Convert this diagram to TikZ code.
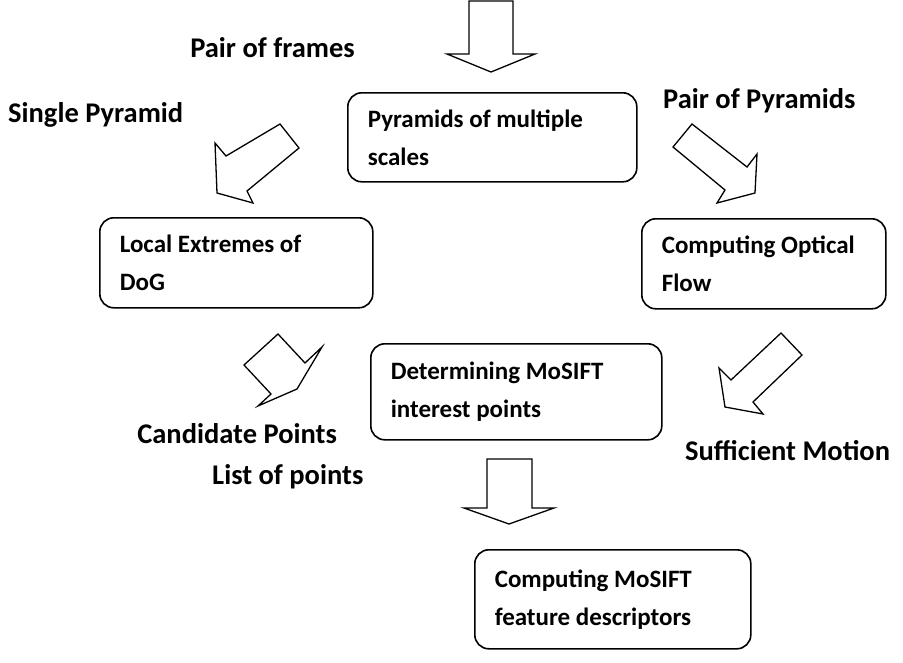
\documentclass[tikz,border=0pt]{standalone}
\usepackage{fontspec}
\setmainfont{Carlito}
\usetikzlibrary{positioning}
\newcommand{\boxfont}{\fontsize{25}{38}\selectfont\bfseries}
\newcommand{\labfont}{\fontsize{28.5}{34}\selectfont\bfseries}
\tikzset{
	stage/.style={draw,line width=1.6pt,rounded corners=14pt,align=flush left,
		font=\boxfont,inner xsep=20pt,inner ysep=4pt,anchor=north west},
	tag/.style={font=\labfont,inner sep=0pt},
	blk/.style={draw,line width=1.3pt,line join=miter}
}
\begin{document}
\begin{tikzpicture}[x=1pt,y=-1pt]
	\useasboundingbox (0,0) rectangle (903,662);
	% boxes
	\node[stage,text width=249pt,minimum height=89pt] (pyr) at (347,92) {Pyramids of multiple\\scales};
	\node[stage,text width=233pt,minimum height=90pt] (loc) at (99,217) {Local Extremes of\\DoG};
	\node[stage,text width=204pt,minimum height=90pt] (flow) at (641,218) {Computing Optical\\Flow};
	\node[stage,text width=251pt,minimum height=96pt] (det) at (370,343) {Determining MoSIFT\\interest points};
	\node[stage,text width=236pt,minimum height=99pt] (desc) at (474,549) {Computing MoSIFT\\feature descriptors};
	% labels
	\node[tag,anchor=base east] (frames) at (355,57) {Pair of frames};
	\node[tag,anchor=base west] (single) at (8,122) {Single Pyramid};
	\node[tag,anchor=base west] (pairpyr) at (663,108) {Pair of Pyramids};
	\node[tag,anchor=base east] (cand) at (337,443) {Candidate Points};
	\node[tag,anchor=base west] (suff) at (685,460) {Sufficient Motion};
	\node[tag,anchor=base west] (list) at (212,484) {List of points};
	% block arrows
	\draw[blk] (469,1)--(513,1)--(513,54)--(535,54)--(491,72)--(447,54)--(469,54)--cycle;
	\draw[blk] (280,124)--(299,148)--(247,191)--(253,203)--(217,193)--(215,143)--(226,156)--cycle;
	\draw[blk] (692,124)--(673,147)--(725,190)--(717,203)--(755,193)--(757,154)--(747,167)--cycle;
	\draw[blk] (278,334)--(244,365)--(271,394)--(258,406)--(297,389)--(322,347)--(305,363)--cycle;
	\draw[blk] (781,333)--(802,355)--(753,402)--(763,414)--(725,407)--(719,368)--(731,380)--cycle;
	\draw[blk] (487,459)--(532,459)--(532,508)--(554,508)--(509,524)--(464,508)--(487,508)--cycle;
\end{tikzpicture}
\end{document}
